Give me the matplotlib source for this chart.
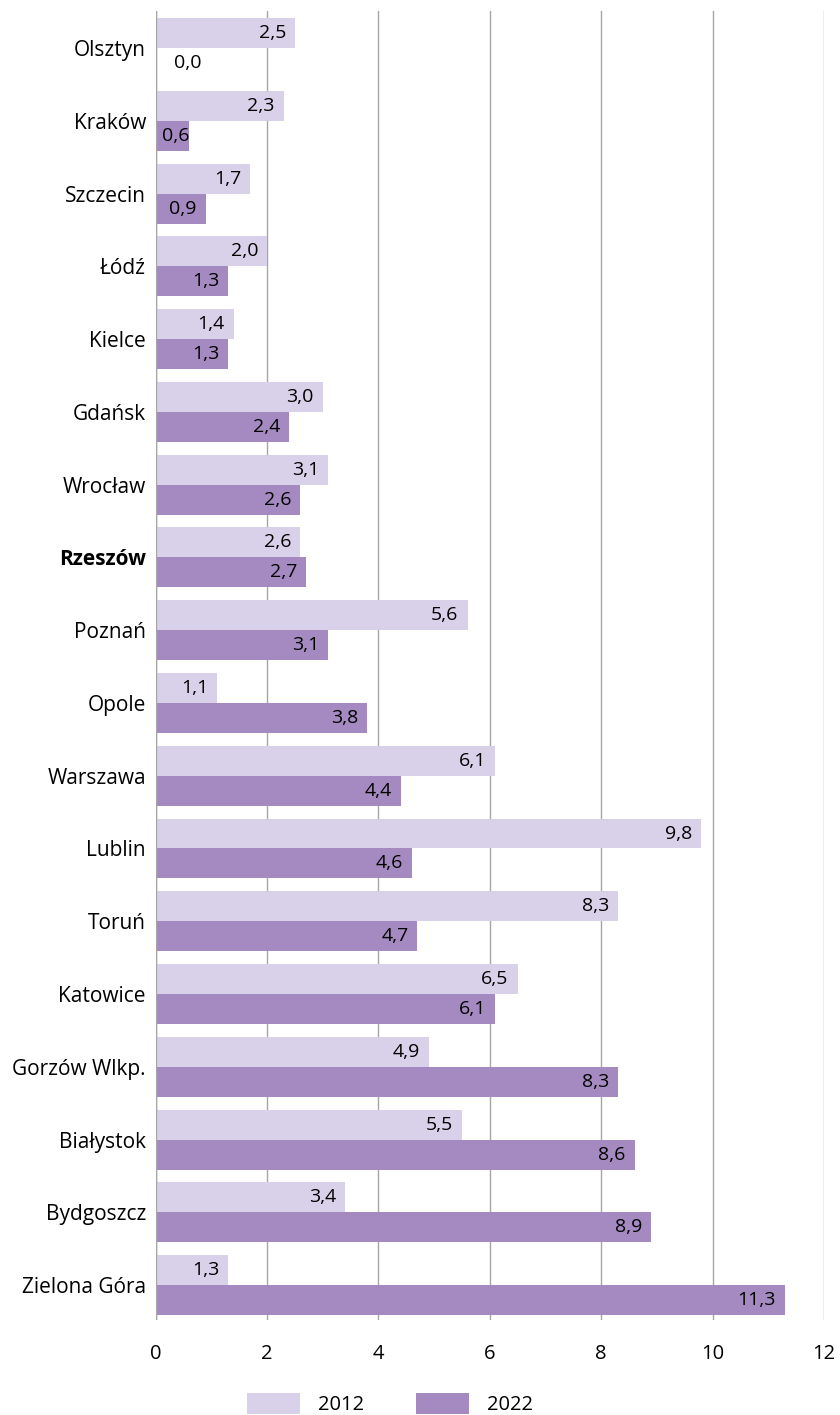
import matplotlib
matplotlib.use("Agg")
import matplotlib.pyplot as plt
import numpy as np
from matplotlib.transforms import offset_copy

plt.rcParams['font.family'] = ['Open Sans', 'DejaVu Sans']

cities = ["Olsztyn", "Kraków", "Szczecin", "Łódź", "Kielce", "Gdańsk", "Wrocław",
          "Rzeszów", "Poznań", "Opole", "Warszawa", "Lublin", "Toruń", "Katowice",
          "Gorzów Wlkp.", "Białystok", "Bydgoszcz", "Zielona Góra"]
v2012 = [2.5, 2.3, 1.7, 2.0, 1.4, 3.0, 3.1, 2.6, 5.6, 1.1, 6.1, 9.8, 8.3, 6.5, 4.9, 5.5, 3.4, 1.3]
v2022 = [0.0, 0.6, 0.9, 1.3, 1.3, 2.4, 2.6, 2.7, 3.1, 3.8, 4.4, 4.6, 4.7, 6.1, 8.3, 8.6, 8.9, 11.3]
series_labels = ["2012", "2022"]
xticks = [0, 2, 4, 6, 8, 10, 12]
highlight = "Rzeszów"

c_light = "#d9d1e9"
c_dark = "#a48ac0"

W, H = 840, 1415
fig = plt.figure(figsize=(W / 100, H / 100), dpi=100)
ax = fig.add_axes([155.7 / W, 1 - 1320 / H, (824 - 155.7) / W, (1320 - 11) / H])

y = np.arange(len(cities))
bh = 0.412
b1 = ax.barh(y - bh / 2, v2012, height=bh, color=c_light, label=series_labels[0], zorder=3)
b2 = ax.barh(y + bh / 2, v2022, height=bh, color=c_dark, label=series_labels[1], zorder=3)

ax.set_xlim(0, 12)
ax.set_ylim(len(cities) - 1 + 0.48, -0.51)
ax.set_xticks(xticks)
ax.set_xticklabels([str(t) for t in xticks], fontsize=14.5)
ax.set_yticks(y)
ax.set_yticklabels(cities, fontsize=15)
for lab in ax.get_yticklabels():
    if lab.get_text() == highlight:
        lab.set_fontweight("bold")
ax.tick_params(axis='x', length=0, pad=17)
ax.tick_params(axis='y', length=0, pad=7)
for s in ax.spines.values():
    s.set_visible(False)
ax.grid(axis='x', color='#a6a6a6', linewidth=1.0, zorder=0)
ax.axvline(0, color='#a6a6a6', linewidth=1.0, zorder=4)

fig.canvas.draw()
renderer = fig.canvas.get_renderer()
px_per_unit = ax.transData.transform((1, 0))[0] - ax.transData.transform((0, 0))[0]

def fmt(v):
    return f"{v:.1f}".replace(".", ",")

for vals, off in ((v2012, -bh / 2), (v2022, bh / 2)):
    for i, v in enumerate(vals):
        yy = i + off
        if v == 0:
            tr = offset_copy(ax.transData, fig=fig, x=18, y=0, units='dots')
            ax.text(0, yy, fmt(v), transform=tr, ha='left', va='center', fontsize=14, zorder=5)
            continue
        t = ax.text(0, yy, fmt(v), ha='right', va='center', fontsize=14, zorder=5)
        tw = t.get_window_extent(renderer).width
        right_px = max(v * px_per_unit - 9, 6 + tw)
        t.set_transform(offset_copy(ax.transData, fig=fig, x=right_px, y=0, units='dots'))

fig.legend(handles=[b1, b2], labels=series_labels, loc='center',
           bbox_to_anchor=(390 / W, 1 - 1404 / H), ncol=2, frameon=False,
           fontsize=14.5, handlelength=2.6, handleheight=1.2, handletextpad=0.9,
           columnspacing=2.6)

fig.savefig("out.png", dpi=100)
